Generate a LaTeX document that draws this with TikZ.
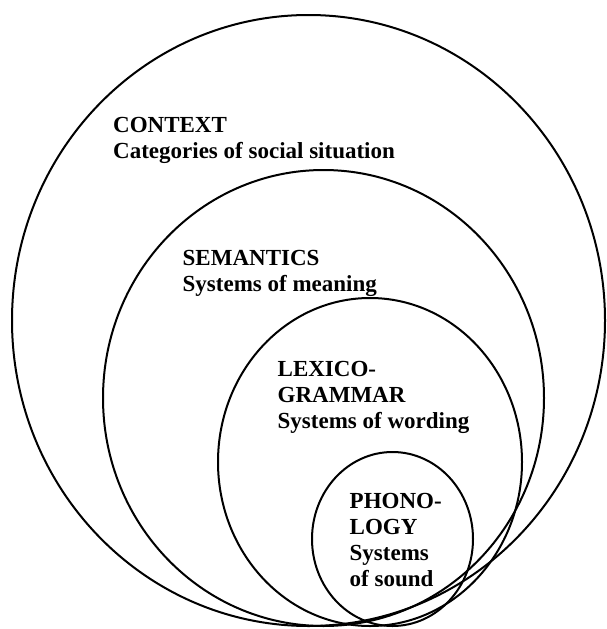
\documentclass[tikz,border=0pt]{standalone}
\usepackage{fontspec}
\setmainfont{Liberation Serif}
\usetikzlibrary{positioning, shapes.geometric}

\begin{document}
\begin{tikzpicture}[
  x=1pt, y=-1pt,
  font=\fontsize{23}{26}\selectfont\bfseries,
  stratum/.style={
    draw=black, line width=2pt, ellipse, inner sep=0pt,
    minimum width=#1
  },
  caption/.style={
    anchor=north west, align=left, inner sep=0pt
  }
]
\useasboundingbox (0,0) rectangle (606,629);

\node[stratum=593pt, minimum height=611pt] (ctx) at (308.5, 320.5) {};
\node[stratum=441pt, minimum height=456pt] (sem) at (323.5, 398) {};
\node[stratum=304pt, minimum height=328pt] (lex) at (370, 462) {};
\node[stratum=161pt, minimum height=174pt] (pho) at (392.5, 539) {};

\node[caption] (ctxtext) at (113, 117.5) {CONTEXT\\Categories of social situation};
\node[caption] (semtext) at (182.5, 250) {SEMANTICS\\Systems of meaning};
\node[caption] (lextext) at (277.5, 361.5) {LEXICO-\\GRAMMAR\\Systems of wording};
\node[caption] (photext) at (349.5, 493.5) {PHONO-\\LOGY\\Systems\\of sound};

\end{tikzpicture}
\end{document}
